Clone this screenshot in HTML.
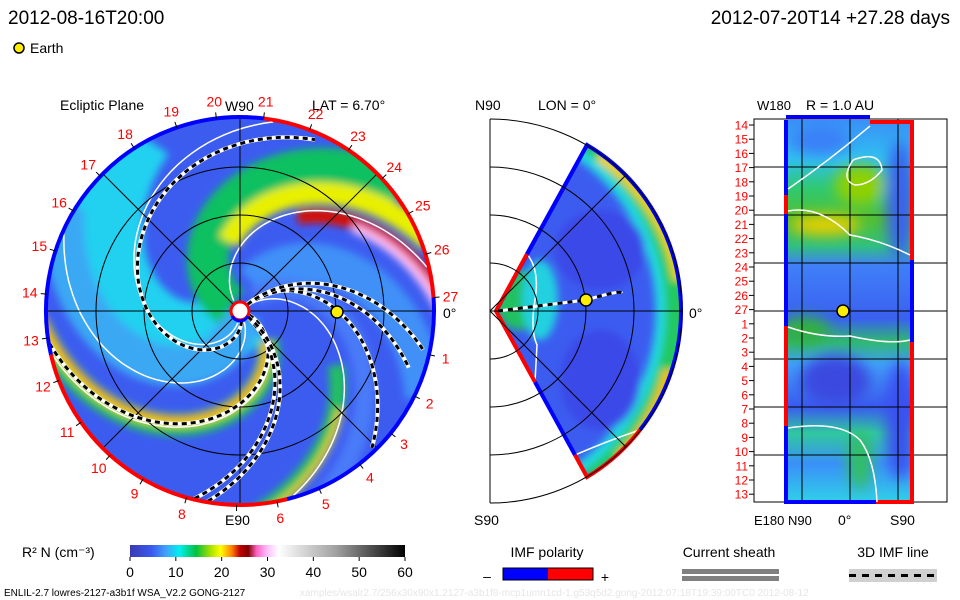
<!DOCTYPE html>
<html><head><meta charset="utf-8"><style>
html,body{margin:0;padding:0;background:#fff;}
svg{display:block;font-family:"Liberation Sans",sans-serif;}
</style></head><body>
<svg id="s" width="960" height="600" viewBox="0 0 960 600" xmlns="http://www.w3.org/2000/svg">
<defs>
<filter id="bl" x="-20%" y="-20%" width="140%" height="140%"><feGaussianBlur stdDeviation="4"/></filter>
<filter id="bl2" x="-20%" y="-20%" width="140%" height="140%"><feGaussianBlur stdDeviation="7"/></filter>
<clipPath id="disc"><circle cx="240" cy="311" r="194"/></clipPath>
<clipPath id="wedge"><path d="M496,311 L587,145 A192,192 0 0 1 587,477 Z"/></clipPath>
<clipPath id="rect"><rect x="786" y="120" width="126" height="382"/></clipPath>
<linearGradient id="cbar" x1="0" x2="1" y1="0" y2="0">
<stop offset="0" stop-color="#3a3ab0"/><stop offset="0.08" stop-color="#3a5af0"/><stop offset="0.13" stop-color="#40a0f8"/>
<stop offset="0.18" stop-color="#00f0f0"/><stop offset="0.24" stop-color="#00c040"/><stop offset="0.29" stop-color="#a0e000"/>
<stop offset="0.33" stop-color="#ffff00"/><stop offset="0.37" stop-color="#ff8000"/><stop offset="0.40" stop-color="#c00000"/>
<stop offset="0.43" stop-color="#800000"/><stop offset="0.46" stop-color="#ff60c0"/><stop offset="0.50" stop-color="#ffc0ff"/>
<stop offset="0.54" stop-color="#ffffff"/><stop offset="0.75" stop-color="#a0a0a0"/><stop offset="1" stop-color="#000000"/>
</linearGradient>
<linearGradient id="rgrad" x1="0" x2="0" y1="0" y2="1">
<stop offset="0" stop-color="#3a90f8"/><stop offset="0.1" stop-color="#30c0f0"/><stop offset="0.18" stop-color="#30c870"/>
<stop offset="0.26" stop-color="#50c030"/><stop offset="0.33" stop-color="#30c080"/><stop offset="0.38" stop-color="#4080f8"/>
<stop offset="0.52" stop-color="#3a60f0"/><stop offset="0.58" stop-color="#30b870"/><stop offset="0.64" stop-color="#40a0f8"/>
<stop offset="0.75" stop-color="#3a5af0"/><stop offset="0.82" stop-color="#30c8a0"/><stop offset="0.9" stop-color="#3a90f8"/>
<stop offset="1" stop-color="#30d0e8"/>
</linearGradient>
</defs>
<g id="texts" font-size="19" fill="#000">
<text x="8" y="24">2012-08-16T20:00</text>
<text x="950" y="24" text-anchor="end">2012-07-20T14 +27.28 days</text>
<circle cx="19" cy="48" r="5" fill="#ffee00" stroke="#000" stroke-width="1.5"/>
<text x="30" y="53" font-size="14">Earth</text>
<text x="60" y="110" font-size="14">Ecliptic Plane</text>
<text x="312" y="110" font-size="14">LAT = 6.70°</text>
<text x="225" y="111" font-size="14">W90</text>
<text x="225" y="525" font-size="14">E90</text>
<text x="443" y="318" font-size="14">0°</text>
<text x="475" y="110" font-size="14">N90</text>
<text x="538" y="110" font-size="14">LON = 0°</text>
<text x="474" y="525" font-size="14">S90</text>
<text x="689" y="318" font-size="14">0°</text>
<text x="757" y="110" font-size="13">W180</text>
<text x="806" y="110" font-size="14">R = 1.0 AU</text>
<text x="754" y="525" font-size="13">E180</text>
<text x="788" y="525" font-size="13">N90</text>
<text x="838" y="525" font-size="14">0°</text>
<text x="890" y="525" font-size="14">S90</text>
</g>
<g id="discg" clip-path="url(#disc)">
<circle cx="240" cy="311" r="194" fill="#3c5cf0"/>
<g id="bands" filter="url(#bl)"></g>
<g id="contours"></g>
</g>
<g id="discover"></g>
<g>
<g clip-path="url(#wedge)">
<path d="M496,311 L587,145 A192,192 0 0 1 587,477 Z" fill="#3c5cf0"/>
<g filter="url(#bl)">
<path d="M587,145 A192,192 0 0 1 587,477" fill="none" stroke="#20c860" stroke-width="34"/>
<path d="M600,155 A185,185 0 0 1 680,280" fill="none" stroke="#f0d000" stroke-width="14"/>
<path d="M670,370 A185,185 0 0 1 620,460" fill="none" stroke="#f0c000" stroke-width="14"/>
<path d="M587,145 A192,192 0 0 1 587,477" fill="none" stroke="#20d8e0" stroke-width="10" transform="translate(-22,0)"/>
<ellipse cx="520" cy="300" rx="25" ry="30" fill="#20c060"/>
<ellipse cx="540" cy="300" rx="18" ry="40" fill="#20d0e0"/>
<ellipse cx="600" cy="250" rx="45" ry="40" fill="#3a48e8"/>
<ellipse cx="600" cy="380" rx="40" ry="50" fill="#3a48e8"/>
</g>
<path d="M527,254 Q540,270 535,300 Q530,330 537,345 L535,382" fill="none" stroke="#fff" stroke-width="1.5"/>
<path d="M575,455 Q610,440 640,430" fill="none" stroke="#fff" stroke-width="1.5"/>
</g>
<path d="M496,311 L587,145 A192,192 0 0 1 681,311" fill="none" stroke="#0000ff" stroke-width="4"/>
<path d="M681,311 A192,192 0 0 1 640,430" fill="none" stroke="#0000ff" stroke-width="4"/>
<path d="M640,430 A192,192 0 0 1 587,477 L575,455" fill="none" stroke="#ff0000" stroke-width="4"/>
<path d="M575,455 L535,382" fill="none" stroke="#0000ff" stroke-width="4"/>
<path d="M535,382 L496,311 L527,254" fill="none" stroke="#ff0000" stroke-width="4"/>
<path d="M527,254 L587,145" fill="none" stroke="#0000ff" stroke-width="4"/>
<g id="midgrid" fill="none" stroke="#000" stroke-width="1"></g>
<path d="M498,311 L586,300 Q620,290 622,293" fill="none" stroke="#fff" stroke-width="3"/>
<path d="M498,311 L586,300 Q620,290 622,293" fill="none" stroke="#000" stroke-width="3" stroke-dasharray="5 5"/>
<circle cx="586" cy="300" r="6" fill="#ffee00" stroke="#000" stroke-width="1.5"/>
</g>
<g>
<rect x="754" y="119" width="193" height="383" fill="#fff" stroke="#000"/>
<g clip-path="url(#rect)">
<rect x="786" y="120" width="126" height="382" fill="url(#rgrad)"/>
<g filter="url(#bl2)">
<ellipse cx="825" cy="225" rx="35" ry="10" fill="#e8d000"/>
<ellipse cx="860" cy="185" rx="25" ry="20" fill="#90d000"/>
<ellipse cx="805" cy="330" rx="25" ry="14" fill="#30b040"/>
<ellipse cx="900" cy="200" rx="14" ry="60" fill="#3a60f0"/>
<ellipse cx="900" cy="420" rx="14" ry="60" fill="#3a50f0"/>
<ellipse cx="860" cy="460" rx="12" ry="30" fill="#30c060"/>
<ellipse cx="835" cy="380" rx="35" ry="25" fill="#3a48e0"/>
<ellipse cx="820" cy="140" rx="30" ry="15" fill="#3a80f8"/>
</g>
</g>
<g id="rgrid" stroke="#000" stroke-width="1"></g>
<path d="M786,117 H870" stroke="#0000ff" stroke-width="4"/>
<path d="M870,122 H912 V260" stroke="#ff0000" stroke-width="4" fill="none"/>
<path d="M912,260 V342" stroke="#0000ff" stroke-width="4"/>
<path d="M912,342 V502 H876" stroke="#ff0000" stroke-width="4" fill="none"/>
<path d="M876,502 H786 V426" stroke="#0000ff" stroke-width="4" fill="none"/>
<path d="M786,426 V326" stroke="#ff0000" stroke-width="4"/>
<path d="M786,326 V214 " stroke="#0000ff" stroke-width="4"/>
<path d="M786,214 V195" stroke="#ff0000" stroke-width="4"/>
<path d="M786,195 V120" stroke="#0000ff" stroke-width="4"/>
<g fill="none" stroke="#fff" stroke-width="1.5">
<path d="M788,189 Q830,160 870,126"/>
<path d="M853,160 Q880,150 882,170 Q870,185 855,185 Q840,180 853,160"/>
<path d="M788,211 Q820,205 850,235 Q880,240 910,255"/>
<path d="M788,327 Q820,338 850,336 Q890,345 910,340"/>
<path d="M788,428 Q840,420 860,440 Q875,460 877,502"/>
</g>
<circle cx="843" cy="311" r="6" fill="#ffee00" stroke="#000" stroke-width="1.5"/>
<g id="rlabels" font-size="12" fill="#ff0000" text-anchor="end"></g>
</g>
<g>
<text x="22" y="557" font-size="14">R² N (cm⁻³)</text>
<rect x="130" y="545" width="275" height="12" fill="url(#cbar)"/>
<g id="cbticks" font-size="14" text-anchor="middle"></g>
</g>
<g>
<text x="547" y="557" font-size="14" text-anchor="middle">IMF polarity</text>
<text x="487" y="581" font-size="14" text-anchor="middle">–</text>
<rect x="503" y="568" width="45" height="12" fill="#0000ff"/>
<rect x="548" y="568" width="45" height="12" fill="#ff0000"/>
<rect x="503" y="568" width="90" height="12" fill="none" stroke="#000"/>
<text x="605" y="582" font-size="14" text-anchor="middle">+</text>
</g>
<g>
<text x="729" y="557" font-size="14" text-anchor="middle">Current sheath</text>
<rect x="682" y="569" width="97" height="5" fill="#808080"/>
<rect x="682" y="576" width="97" height="5" fill="#808080"/>
</g>
<g>
<text x="893" y="557" font-size="14" text-anchor="middle">3D IMF line</text>
<rect x="849" y="569" width="88" height="13" fill="#d0d0d0"/>
<line x1="849" y1="575.5" x2="937" y2="575.5" stroke="#000" stroke-width="3" stroke-dasharray="7 6"/>
</g>
<text x="4" y="596" font-size="10">ENLIL-2.7 lowres-2127-a3b1f WSA_V2.2 GONG-2127</text>
<text x="300" y="596" font-size="10" fill="#e6e6e6">xamples/wsalr2.7/256x30x90x1.2127-a3b1f8-mcp1umn1cd-1.g53q5d2.gong-2012:07:18T19:39:00TC0     2012-08-12</text>
</svg>
<script>
const NS='http://www.w3.org/2000/svg';
const cx=240, cy=311, R=194;
const cbTicks=[0,10,20,30,40,50,60];
const carrLabels=['27','1','2','3','4','5','6','7','8','9','10','11','12','13','14','15','16','17','18','19','20','21','22','23','24','25','26'];
const carrAngles=[-4,13,26,39,52,66,79,91,106,120,132,145,159,172,185,198,211,224,237,251,263,277,291,304,317,330,343];
const rLabels=['14','15','16','17','18','19','20','21','22','23','24','25','26','27','1','2','3','4','5','6','7','8','9','10','11','12','13'];
const bandAngle=[235,205,318,335,352,356,20,170,173,175,80,77,60];
const bandCurv=[0.6,0.6,0.6,0.6,0.6,0.6,0.5,0.8,0.8,0.8,0.6,0.6,0.6];
const bandR0=[5,5,10,70,110,140,30,40,40,40,110,140,20];
const bandColor=['#20d0f0','#3aa8f4','#10c060','#e8f000','#d81000','#ffc0f8','#4090f8','#20c060','#e8e800','#ff8000','#20c060','#f0d000','#4a7af8'];
const bandWidth=[70,40,42,22,14,9,40,22,10,4,16,6,20];
const lineAngle=[302,171,104,100,48,24,14];
const lineCurv=[1.2,0.8,0.35,0.35,0.5,0.34,0.3];
const lineEnd=[188,194,194,194,190,178,188];
const contAngle=[282,348,168,75,205];
const contCurv=[1.0,0.6,0.8,0.6,0.75];

function el(tag,attrs,parent){const e=document.createElementNS(NS,tag);for(const k in attrs)e.setAttribute(k,attrs[k]);parent.appendChild(e);return e;}
function spiral(tOut,c,r0,r1){let d='';for(let r=r0;r<=r1;r+=3){const t=(tOut-c*(R-r))*Math.PI/180;d+=(d?'L':'M')+(cx+r*Math.cos(t)).toFixed(1)+','+(cy+r*Math.sin(t)).toFixed(1);}return d;}
const bands=document.getElementById('bands');
for(let i=0;i<bandAngle.length;i++){
  const p=el('path',{d:spiral(bandAngle[i],bandCurv[i],bandR0[i],R+10),fill:'none',stroke:bandColor[i],'stroke-width':bandWidth[i]},bands);
  
  
}
const cont=document.getElementById('contours');
for(let i=0;i<contAngle.length;i++){
  const p=el('path',{d:spiral(contAngle[i],contCurv[i],12,R),fill:'none',stroke:'#fff','stroke-width':1.5},cont);
  
  
}
const g=document.getElementById('discover');
[48,96,144].forEach(r=>{el('circle',{cx:cx,cy:cy,r:r,fill:'none',stroke:'#000','stroke-width':1},g);});
[0,45,90,135].forEach(a=>{const t=a*Math.PI/180;el('line',{x1:cx-R*Math.cos(t),y1:cy-R*Math.sin(t),x2:cx+R*Math.cos(t),y2:cy+R*Math.sin(t),stroke:'#000','stroke-width':1},g);});
for(let i=0;i<lineAngle.length;i++){
  const d=spiral(lineAngle[i],lineCurv[i],10,lineEnd[i]);
  el('path',{d:d,fill:'none',stroke:'#fff','stroke-width':4},g);
  const p=el('path',{d:d,fill:'none',stroke:'#000','stroke-width':3,'stroke-dasharray':'5 4'},g);
  
  
}
function arc(a0,a1,col){const t0=a0*Math.PI/180,t1=a1*Math.PI/180;const large=(a1-a0)>180?1:0;
 el('path',{d:`M${cx+R*Math.cos(t0)},${cy+R*Math.sin(t0)} A${R},${R} 0 ${large} 1 ${cx+R*Math.cos(t1)},${cy+R*Math.sin(t1)}`,fill:'none',stroke:col,'stroke-width':4},g);}
arc(-4,76,'#0000ff');arc(76,167,'#ff0000');arc(167,277,'#0000ff');arc(277,356,'#ff0000');
el('circle',{cx:cx,cy:cy,r:9,fill:'#fff',stroke:'#ff0000','stroke-width':3},g);
el('path',{d:`M${cx-8},${cy+5} A9,9 0 0 0 ${cx+8},${cy+5}`,fill:'none',stroke:'#0000ff','stroke-width':3},g);
const earth=el('circle',{cx:337,cy:312,r:6,fill:'#ffee00',stroke:'#000','stroke-width':1.5},g);


for(let i=0;i<carrLabels.length;i++){
  const t=carrAngles[i]*Math.PI/180;
  el('line',{x1:cx+R*Math.cos(t),y1:cy+R*Math.sin(t),x2:cx+(R+6)*Math.cos(t),y2:cy+(R+6)*Math.sin(t),stroke:'#000'},g);
  if(carrLabels[i]==='7') continue;
  const tx=el('text',{x:cx+211*Math.cos(t),y:cy+211*Math.sin(t)+5,'font-size':14,fill:'#ff0000','text-anchor':'middle'},g);
  tx.textContent=carrLabels[i];
  
  
}
const mg=document.getElementById('midgrid');
el('line',{x1:490,y1:119,x2:490,y2:503},mg);
[48,96,144,192].forEach(r=>{el('path',{d:`M490,${311-r} A${r},${r} 0 0 1 490,${311+r}`},mg);});
el('line',{x1:490,y1:311,x2:682,y2:311},mg);
el('line',{x1:490,y1:311,x2:626,y2:175},mg);
el('line',{x1:490,y1:311,x2:626,y2:447},mg);
const rg=document.getElementById('rgrid');
[802,850,898].forEach(x=>el('line',{x1:x,y1:119,x2:x,y2:502},rg));
[167,215,263,311,359,407,455].forEach(y=>el('line',{x1:754,y1:y,x2:947,y2:y},rg));
const rl=document.getElementById('rlabels');
for(let i=0;i<rLabels.length;i++){
  const y=125+i*14.2;
  el('line',{x1:749,y1:y,x2:754,y2:y,stroke:'#000'},rl);
  const t=el('text',{x:748,y:y+4.5},rl);
  t.textContent=rLabels[i];
  
  
}
const cb=document.getElementById('cbticks');
for(const v of cbTicks){
  const x=130+v/60*275;
  el('line',{x1:x,y1:557,x2:x,y2:561,stroke:'#000'},cb);
  const t=el('text',{x:x,y:577},cb);
  t.textContent=v;
  
  
}
</script>
</body></html>
